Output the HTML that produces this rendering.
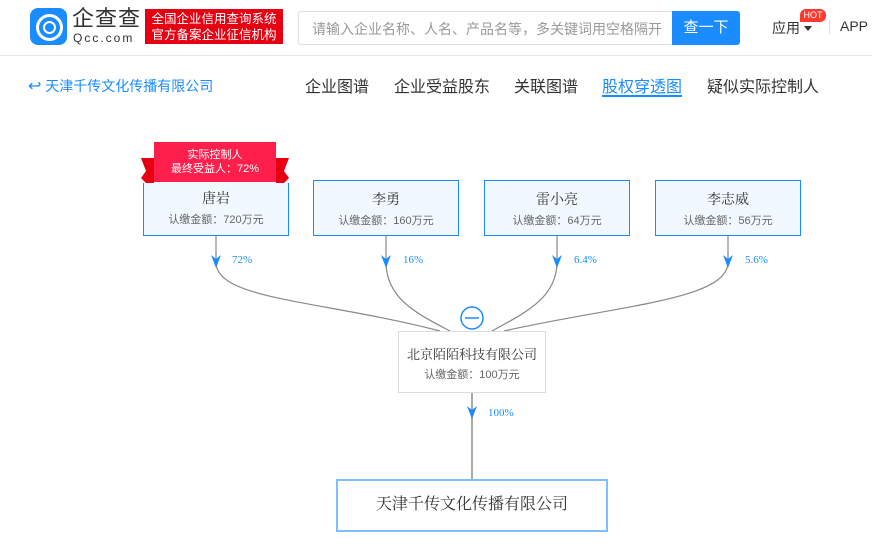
<!DOCTYPE html>
<html><head><meta charset="utf-8">
<style>
body{margin:0;width:872px;height:556px;overflow:hidden;background:#fff;font-family:"Liberation Sans","Noto Sans CJK SC",sans-serif;position:relative}
.a{position:absolute}
.box{position:absolute;background:#f2f8ff;border:1px solid #1a8cff;box-sizing:border-box;text-align:center}
.box .n{font-size:14px;color:#333;margin-top:11px;line-height:18px;font-family:"Liberation Serif","Noto Serif CJK SC",serif}
.box .s{font-size:11px;color:#666;margin-top:4px;line-height:14px}
.tab{position:absolute;top:73px;font-size:16px;color:#333;text-decoration:none}
.pct{position:absolute;font-family:"Liberation Serif",serif;font-size:11px;color:#1a8cff}
</style></head><body>
<div class="a" style="left:0;top:0;width:872px;height:55px;border-bottom:1px solid #e8e8e8"></div>
<div class="a" style="left:30px;top:8px;width:37px;height:37px;background:#1a8cff;border-radius:8px"></div>
<div class="a" style="left:36px;top:14px;width:21px;height:21px;border:3px solid #fff;border-radius:50%"></div>
<div class="a" style="left:43px;top:21px;width:9px;height:9px;border:2px solid #fff;border-radius:50%"></div>
<div class="a" style="left:72px;top:6px;font-size:22px;color:#333;line-height:26px;letter-spacing:1px">企查查</div>
<div class="a" style="left:73px;top:31px;font-size:12px;color:#333;letter-spacing:2px;line-height:14px">Qcc.com</div>
<div class="a" style="left:145px;top:9px;width:138px;height:35px;background:#e60012;color:#fff;font-size:12.5px;line-height:16px;text-align:center;padding-top:2px;box-sizing:border-box">全国企业信用查询系统<br>官方备案企业征信机构</div>
<div class="a" style="left:298px;top:11px;width:376px;height:34px;border:1px solid #ddd;border-radius:3px;box-sizing:border-box"></div>
<div class="a" style="left:312px;top:19px;font-size:14px;color:#999">请输入企业名称、人名、产品名等，多关键词用空格隔开</div>
<div class="a" style="left:672px;top:11px;width:68px;height:34px;background:#1a8cff;color:#fff;font-size:15px;line-height:34px;text-align:center;border-radius:0 3px 3px 0">查一下</div>
<div class="a" style="left:772px;top:18px;font-size:14px;color:#333">应用</div>
<div class="a" style="left:804px;top:26px;width:0;height:0;border-left:4px solid transparent;border-right:4px solid transparent;border-top:5px solid #333"></div>
<div class="a" style="left:800px;top:9px;width:26px;height:13px;background:#ff3b30;color:#fff;font-size:9px;line-height:13px;text-align:center;border-radius:6px 6px 6px 0">HOT</div>
<div class="a" style="left:829px;top:20px;width:1px;height:14px;background:#ddd"></div>
<div class="a" style="left:840px;top:18px;font-size:14px;color:#333">APP</div>

<div class="a" style="left:28px;top:76px;font-size:14px;color:#1a8cff"><span style="font-size:16px">&#x21A9;</span> 天津千传文化传播有限公司</div>
<div class="tab" style="left:305px">企业图谱</div>
<div class="tab" style="left:394px">企业受益股东</div>
<div class="tab" style="left:514px">关联图谱</div>
<div class="tab" style="left:602px;color:#1a8cff">股权穿透图</div>
<div class="a" style="left:602px;top:95px;width:80px;height:2px;background:#1a8cff"></div>
<div class="tab" style="left:707px">疑似实际控制人</div>

<svg class="a" style="left:0;top:0" width="872" height="556">
<g fill="none" stroke="#888" stroke-width="1.2">
<path d="M216 236V262C216 300 320 300 440 331"/>
<path d="M386 236V262C386 300 420 315 450 331"/>
<path d="M557 236V262C557 300 520 315 492 331"/>
<path d="M728 236V262C728 300 620 305 504 331"/>
</g>
<path d="M472 392V480" stroke="#aaa" stroke-width="2"/>
<g fill="#1a8cff">
<path d="M211 255L216 268L221 255L216 259Z"/>
<path d="M381 255L386 268L391 255L386 259Z"/>
<path d="M552 255L557 268L562 255L557 259Z"/>
<path d="M723 255L728 268L733 255L728 259Z"/>
<path d="M467 406L472 419L477 406L472 410Z"/>
</g>
<circle cx="472" cy="318" r="11" fill="#fff" stroke="#1a8cff" stroke-width="1.5"/>
<path d="M465 318H479" stroke="#1a8cff" stroke-width="1.5"/>
<path d="M141 158L154 158L154 183L146 183L141 178L146 171Z" fill="#e60012"/>
<path d="M289 158L276 158L276 183L284 183L289 178L284 171Z" fill="#e60012"/>
<rect x="154" y="142" width="122" height="40" fill="#ff1f4c"/>
</svg>
<div class="a" style="left:154px;top:148px;width:122px;text-align:center;color:#fff;font-size:11px;line-height:14px">实际控制人<br>最终受益人：72%</div>

<div class="box" style="left:143px;top:183px;width:146px;height:53px;border-top:none"><div class="n" style="margin-top:8px">唐岩</div><div class="s">认缴金额：720万元</div></div>
<div class="box" style="left:313px;top:180px;width:146px;height:56px"><div class="n">李勇</div><div class="s">认缴金额：160万元</div></div>
<div class="box" style="left:484px;top:180px;width:146px;height:56px"><div class="n">雷小亮</div><div class="s">认缴金额：64万元</div></div>
<div class="box" style="left:655px;top:180px;width:146px;height:56px"><div class="n">李志威</div><div class="s">认缴金额：56万元</div></div>

<div class="pct" style="left:232px;top:254px">72%</div>
<div class="pct" style="left:403px;top:254px">16%</div>
<div class="pct" style="left:574px;top:254px">6.4%</div>
<div class="pct" style="left:745px;top:254px">5.6%</div>
<div class="pct" style="left:488px;top:407px">100%</div>

<div class="box" style="left:398px;top:331px;width:148px;height:62px;background:#fff;border-color:#ddd"><div class="n" style="margin-top:14px;font-size:13px">北京陌陌科技有限公司</div><div class="s">认缴金额：100万元</div></div>
<div class="box" style="left:336px;top:479px;width:272px;height:53px;background:#fff;border:2px solid #7fbfff"><div class="n" style="margin-top:14px;font-size:16px;line-height:20px">天津千传文化传播有限公司</div></div>
</body></html>
